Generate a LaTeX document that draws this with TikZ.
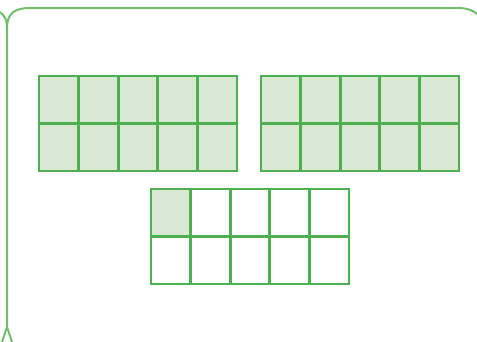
\documentclass[tikz,border=0pt]{standalone}
\definecolor{framegreen}{HTML}{6FBF6C}
\definecolor{gridgreen}{HTML}{4CB050}
\definecolor{cellfill}{HTML}{D9E8D3}
\usepackage{tikz}
\usetikzlibrary{positioning}

\begin{document}
\begin{tikzpicture}[
    x=1pt, y=-1pt,
    cell/.style={draw=gridgreen, line width=2.8pt, minimum width=39.6pt,
                 minimum height=47.5pt, inner sep=0pt, outer sep=0pt},
    shaded/.style={cell, fill=cellfill},
    frame/.style={draw=framegreen, line width=2pt}
  ]
    \useasboundingbox (0,0) rectangle (477,341);
    \clip (0,0) rectangle (477,341);

    % outer frame
    \coordinate (topsplit) at (7,28);
    \coordinate (botsplit) at (7,327);
    \draw[frame] (botsplit) -- (topsplit) .. controls (7,14) and (14,8) .. (30,8)
      -- (458,8) .. controls (470,8) and (477,12) .. (482,20);
    \draw[frame] (0,12) .. controls (5,16) and (7,20) .. (topsplit);
    \draw[frame] (botsplit) -- (2,342);
    \draw[frame] (botsplit) -- (12,342);

    % two full tens and one ten with a single unit
    \foreach \r in {0,1}
      \foreach \c in {0,...,4} {
        \node[shaded] (a\r\c) at ({39+39.6*(\c+0.5)}, {76+47.5*(\r+0.5)}) {};
        \node[shaded] (b\r\c) at ({261+39.6*(\c+0.5)}, {76+47.5*(\r+0.5)}) {};
        \node[cell] (c\r\c) at ({151+39.6*(\c+0.5)}, {189+47.5*(\r+0.5)}) {};
      }
    \node[shaded] (unit) at (c00) {};
  \end{tikzpicture}
\end{document}
